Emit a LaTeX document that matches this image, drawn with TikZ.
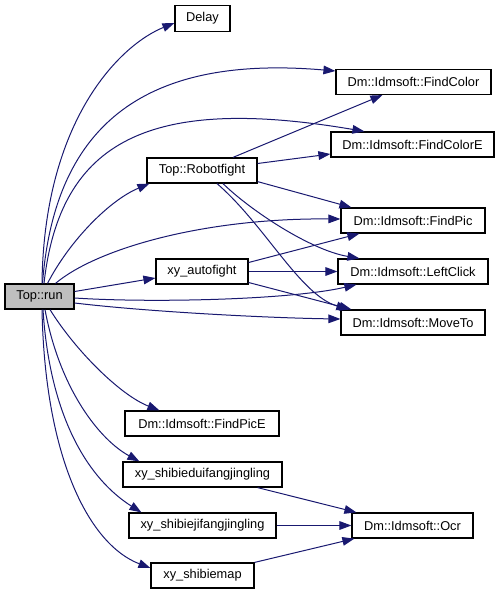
\documentclass[tikz,border=0pt]{standalone}
\usepackage{fontspec}
\setmainfont{Liberation Sans}
\usetikzlibrary{arrows.meta,calc}
\definecolor{callblue}{RGB}{25,25,112}
\definecolor{rungray}{RGB}{191,191,191}

\begin{document}
\begin{tikzpicture}[x=0.75pt,y=-0.75pt,
    callbox/.style={draw=black,line width=0.9pt,fill=white,inner sep=0pt,
        minimum height=18.75pt,minimum width=#1*0.75pt,font=\fontsize{9.6}{11.5}\selectfont},
    callarrow/.style={draw=callblue,line width=0.75pt,-{Triangle[length=9pt,width=6.5pt]}}]

    \useasboundingbox (0,0) rectangle (501,595);

    % caller
    \node[callbox=69,fill=rungray] (run) at (39.5,296.5) {Top::run};

    % middle column
    \node[callbox=55,minimum height=19.5pt] (delay) at (202.5,18.5) {Delay};
    \node[callbox=110] (robot) at (202,170.5) {Top::Robotfight};
    \node[callbox=92] (auto) at (202,271.5) {xy\_autofight};
    \node[callbox=154] (findpice) at (202,423.5) {Dm::Idmsoft::FindPicE};
    \node[callbox=159] (duifang) at (202.5,474.5) {xy\_shibieduifangjingling};
    \node[callbox=147] (jifang) at (202.5,525.5) {xy\_shibiejifangjingling};
    \node[callbox=103] (map) at (202.5,575.5) {xy\_shibiemap};

    % right column
    \node[callbox=155] (findcolor) at (413.5,82) {Dm::Idmsoft::FindColor};
    \node[callbox=163] (findcolore) at (412.5,144.5) {Dm::Idmsoft::FindColorE};
    \node[callbox=144] (findpic) at (413,220.5) {Dm::Idmsoft::FindPic};
    \node[callbox=150] (leftclick) at (413,271.5) {Dm::Idmsoft::LeftClick};
    \node[callbox=144] (moveto) at (413,322.5) {Dm::Idmsoft::MoveTo};
    \node[callbox=121] (ocr) at (412.5,525.5) {Dm::Idmsoft::Ocr};

    % calls from Top::run (upwards)
    \draw[callarrow] ($(run.north)+(2.5,0)$) .. controls (44,120) and (120,45) .. ($(delay.west)+(0,4.5)$);
    \draw[callarrow] ($(run.north)+(3,0)$) .. controls (55,120) and (150,55) .. ($(findcolor.west)+(0,-11)$);
    \draw[callarrow] ($(run.north)+(4.5,0)$) .. controls (60,140) and (150,95) .. ($(findcolore.north west)+(34,0)$);
    \draw[callarrow] ($(run.north)+(8,0)$) .. controls (70,240) and (110,200) .. ($(robot.south west)+(3,0)$);
    \draw[callarrow] ($(run.north)+(16,0)$) .. controls (95,250) and (200,218) .. ($(findpic.west)+(0,-1.5)$);

    % calls from Top::run (to the right)
    \draw[callarrow] ($(run.east)+(0,-5)$) -- ($(auto.west)+(0,6.5)$);
    \draw[callarrow] ($(run.east)+(0,1.5)$) .. controls (150,303) and (290,300) .. ($(leftclick.south west)+(19,0)$);
    \draw[callarrow] ($(run.east)+(0,6.5)$) .. controls (150,312) and (270,318) .. ($(moveto.west)+(0,-3.5)$);

    % calls from Top::run (downwards)
    \draw[callarrow] ($(run.south)+(10.5,0)$) .. controls (75,350) and (120,395) .. ($(findpice.north west)+(35,0)$);
    \draw[callarrow] ($(run.south)+(5.5,0)$) .. controls (60,390) and (100,440) .. ($(duifang.north west)+(17,0)$);
    \draw[callarrow] ($(run.south)+(3.5,0)$) .. controls (50,420) and (90,480) .. ($(jifang.north west)+(13,0)$);
    \draw[callarrow] ($(run.south)+(2.5,0)$) .. controls (45,460) and (90,545) .. ($(map.west)+(0,-7.5)$);

    % calls from Top::Robotfight
    \draw[callarrow] ($(robot.north)+(31,0)$) -- ($(findcolor.south west)+(47,0)$);
    \draw[callarrow] ($(robot.east)+(0,-7)$) -- ($(findcolore.west)+(0,9.5)$);
    \draw[callarrow] ($(robot.south east)+(0,-2)$) -- ($(findpic.north west)+(11,0)$);
    \draw[callarrow] ($(robot.south)+(21,0)$) .. controls (250,210) and (310,250) .. ($(leftclick.north west)+(22,0)$);
    \draw[callarrow] ($(robot.south)+(15,0)$) .. controls (265,225) and (300,295) .. ($(moveto.north west)+(8,0)$);

    % calls from xy_autofight
    \draw[callarrow] ($(auto.east)+(0,-9)$) -- ($(findpic.south west)+(19,0)$);
    \draw[callarrow] (auto.east) -- (leftclick.west);
    \draw[callarrow] ($(auto.east)+(0,11)$) -- ($(moveto.north west)+(11,0)$);

    % calls to Ocr
    \draw[callarrow] ($(duifang.south east)+(-25,0)$) -- ($(ocr.north west)+(5,0)$);
    \draw[callarrow] (jifang.east) -- (ocr.west);
    \draw[callarrow] (map.north east) -- ($(ocr.south west)+(3,0)$);

\end{tikzpicture}
\end{document}
